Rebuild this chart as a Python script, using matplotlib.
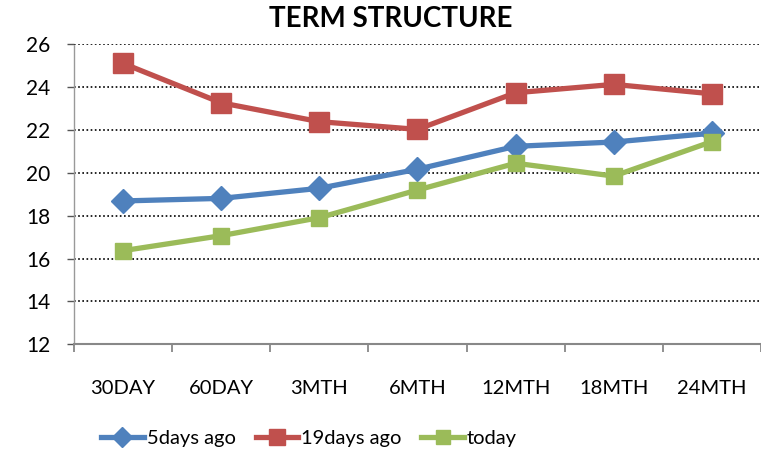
import matplotlib.pyplot as plt
import numpy as np

plt.rcParams['font.family'] = ['Lato', 'DejaVu Sans']

categories = ['30DAY', '60DAY', '3MTH', '6MTH', '12MTH', '18MTH', '24MTH']
days5 = [18.69, 18.81, 19.28, 20.17, 21.24, 21.44, 21.85]
days19 = [25.11, 23.27, 22.39, 22.03, 23.74, 24.13, 23.69]
today = [16.37, 17.07, 17.91, 19.20, 20.45, 19.85, 21.46]

x = np.arange(len(categories))

fig = plt.figure(figsize=(7.61, 4.55), dpi=100)
ax = fig.add_axes([0.0972, 0.2433, 0.9028, 0.6593])

ax.plot(x, days5, color='#4F81BD', lw=3.8, marker='D', ms=12, label='5days ago')
ax.plot(x, days19, color='#C0504D', lw=3.8, marker='s', ms=14, label='19days ago')
ax.plot(x, today, color='#9BBB59', lw=3.8, marker='s', ms=12, label='today')

ax.set_xlim(-0.5, len(categories) - 0.5)
ax.set_ylim(12, 26)
ax.set_yticks(range(12, 27, 2))
ax.yaxis.grid(True, linestyle=(0, (1, 1.5)), color='black', lw=1.2)
ax.set_axisbelow(True)

ax.set_xticks(x)
ax.set_xticklabels(categories, fontsize=14.5)
ax.set_xticks(np.arange(-0.5, len(categories), 1), minor=True)
ax.tick_params(axis='x', which='major', length=0, pad=26)
ax.tick_params(axis='x', which='minor', length=6, width=1.3, color='#888888')
ax.tick_params(axis='y', length=5, width=1, color='#555555', labelsize=15, pad=12)

for s in ['top', 'right']:
    ax.spines[s].set_visible(False)
ax.spines['bottom'].set_color('#888888')
ax.spines['bottom'].set_linewidth(1.5)
ax.spines['left'].set_color('#999999')
ax.spines['left'].set_linestyle((0, (1, 1)))
ax.spines['left'].set_linewidth(1)

fig.text(0.514, 0.958, 'TERM STRUCTURE', ha='center', va='center', fontsize=20, fontweight='bold')

fig.legend(loc='center', bbox_to_anchor=(0.406, 0.037), ncol=3, frameon=False,
           fontsize=14.5, handlelength=2.1, columnspacing=1.0,
           handletextpad=0.15, markerscale=0.85)

fig.savefig('out.png', dpi=100)
